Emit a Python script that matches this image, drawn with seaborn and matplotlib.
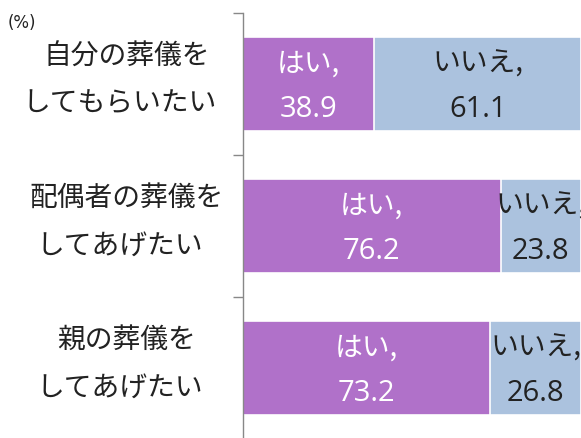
import matplotlib
matplotlib.use("Agg")
import matplotlib.pyplot as plt
import seaborn as sns
import pandas as pd

categories = ["自分の葬儀を\nしてもらいたい", "配偶者の葬儀を\nしてあげたい", "親の葬儀を\nしてあげたい"]
yes_vals = [38.9, 76.2, 73.2]
no_vals = [61.1, 23.8, 26.8]
yes_label = "はい,"
no_label = "いいえ,"

sns.set_style("white")
plt.rcParams['font.family'] = ['Noto Sans CJK JP', 'DejaVu Sans']

PURPLE = "#B071C9"
BLUE = "#ABC2DE"

df = pd.DataFrame({"cat": categories, "yes": yes_vals, "no": no_vals})
df["total"] = df["yes"] + df["no"]

fig = plt.figure(figsize=(5.81, 4.38), dpi=100)
ax = fig.add_axes([243/581, -1/438, 1 - 243/581, 426/438])

sns.barplot(data=df, x="total", y="cat", color=BLUE, width=0.66, edgecolor="white",
            linewidth=1.2, ax=ax, orient="h", saturation=1)
sns.barplot(data=df, x="yes", y="cat", color=PURPLE, width=0.66, edgecolor="white",
            linewidth=1.2, ax=ax, orient="h", saturation=1)

ax.set_xlim(0, 100)
ax.set_ylim(2.5, -0.5)
ax.set_xlabel("")
ax.set_ylabel("")
ax.set_xticks([])
ax.set_yticks([-0.5, 0.5, 1.5, 2.5])
ax.set_yticklabels([])
ax.tick_params(axis="y", direction="out", length=7, width=1, color="#888888", left=True)
for s in ["top", "right", "bottom"]:
    ax.spines[s].set_visible(False)
ax.spines["left"].set_color("#888888")
ax.spines["left"].set_linewidth(1)

fs = 20
for i, cat in enumerate(categories):
    l1, l2 = cat.split("\n")
    ax.annotate(l1, xy=(-0.345, i), xycoords=("axes fraction", "data"),
                xytext=(0, 20), textcoords="offset points", ha="center", va="center",
                fontsize=fs, color="#222222", annotation_clip=False)
    ax.annotate(l2, xy=(-0.365, i), xycoords=("axes fraction", "data"),
                xytext=(0, -14), textcoords="offset points", ha="center", va="center",
                fontsize=fs, color="#222222", annotation_clip=False)
    y, n = yes_vals[i], no_vals[i]
    for xc, lab, val, col in [(y / 2, yes_label, y, "white"), (y + n / 2, no_label, n, "#222222")]:
        ax.annotate(lab, xy=(xc, i), xytext=(0, 15), textcoords="offset points",
                    ha="center", va="center", fontsize=fs, color=col, annotation_clip=False)
        ax.annotate(f"{val:.1f}", xy=(xc, i), xytext=(0, -18), textcoords="offset points",
                    ha="center", va="center", fontsize=21, color=col, annotation_clip=False,
                    family=["Open Sans", "DejaVu Sans"])

fig.text(8/581, 1 - 23/438, "(%)", fontsize=12, color="#222222", ha="left", va="center",
         family=["DejaVu Sans"])

fig.savefig("out.png", dpi=100)
